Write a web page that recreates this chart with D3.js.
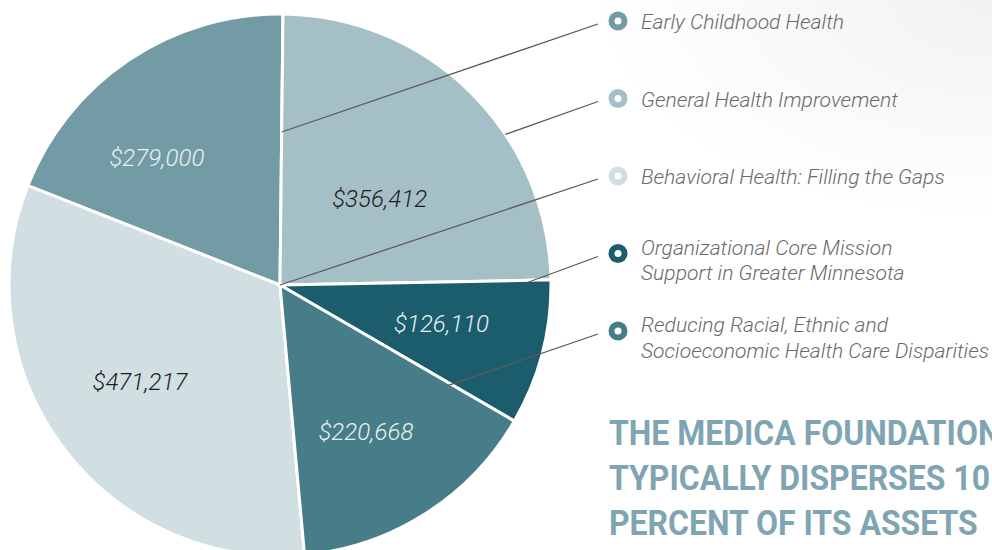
<!DOCTYPE html>
<html>
<head>
<meta charset="utf-8">
<script src="https://cdn.jsdelivr.net/npm/d3@7"></script>
<style>
  html, body { margin: 0; padding: 0; background: #fff; }
  svg { display: block; }
</style>
</head>
<body>
<div id="chart"></div>
<script>
// Data (legend order)
const categories = [
  'Early Childhood Health',
  'General Health Improvement',
  'Behavioral Health: Filling the Gaps',
  'Organizational Core Mission Support in Greater Minnesota',
  'Reducing Racial, Ethnic and Socioeconomic Health Care Disparities'
];
const amounts = [279000, 356412, 471217, 126110, 220668];
const colors = ['#729ba5', '#a5bfc6', '#d1dfe2', '#1b5d6c', '#477d89'];
const legendLines = [
  ['Early Childhood Health'],
  ['General Health Improvement'],
  ['Behavioral Health: Filling the Gaps'],
  ['Organizational Core Mission', 'Support in Greater Minnesota'],
  ['Reducing Racial, Ethnic and', 'Socioeconomic Health Care Disparities']
];
// clockwise order of the slices, starting at 12 o'clock
const sliceOrder = [1, 3, 4, 2, 0];
const titleLines = ['THE MEDICA FOUNDATION', 'TYPICALLY DISPERSES 10', 'PERCENT OF ITS ASSETS'];

// Layout
const width = 992, height = 550;
const cx = 280, cy = 285, radius = 271;
const startOffset = 0.011;
// [fraction of slice span, radius] for value labels and leader anchors
const labelSpots = [[0.353, 177], [0.548, 132], [0.52, 170], [0.46, 166], [0.54, 170]];
const leaderSpots = [[1, 153], [0.63, 271], [0, 0], [0.02, 246], [0.012, 196]];
const labelDark = [false, true, true, false, false];

const svg = d3.select('#chart').append('svg')
  .attr('width', width)
  .attr('height', height);

// faint shading in the corner
const defs = svg.append('defs');
const grad = defs.append('radialGradient').attr('id', 'corner')
  .attr('cx', 1).attr('cy', 0).attr('r', 0.4);
grad.append('stop').attr('offset', '0%').attr('stop-color', '#f2f2f2');
grad.append('stop').attr('offset', '100%').attr('stop-color', '#ffffff');
svg.append('rect').attr('width', width).attr('height', height).attr('fill', 'url(#corner)');

const rows = categories.map((c, i) => ({ i, cat: c, value: amounts[i] }));

const pie = d3.pie()
  .value(d => d.value)
  .sort((a, b) => sliceOrder.indexOf(a.i) - sliceOrder.indexOf(b.i))
  .startAngle(startOffset)
  .endAngle(startOffset + 2 * Math.PI);

const arcs = pie(rows);
const arc = d3.arc().innerRadius(0).outerRadius(radius);

const g = svg.append('g').attr('transform', `translate(${cx},${cy})`);

g.selectAll('path.slice')
  .data(arcs)
  .join('path')
  .attr('class', 'slice')
  .attr('d', arc)
  .attr('fill', d => colors[d.data.i])
  .attr('stroke', '#fff')
  .attr('stroke-width', 3)
  .attr('stroke-linejoin', 'round');

function polar(d, spot) {
  const a = d.startAngle + (d.endAngle - d.startAngle) * spot[0];
  return [spot[1] * Math.sin(a), -spot[1] * Math.cos(a)];
}

// value labels
const fmt = d3.format('$,');
g.selectAll('text.value')
  .data(arcs)
  .join('text')
  .attr('class', 'value')
  .attr('x', d => polar(d, labelSpots[d.data.i])[0])
  .attr('y', d => polar(d, labelSpots[d.data.i])[1])
  .attr('dy', '0.35em')
  .attr('text-anchor', 'middle')
  .style('font-family', 'Roboto, sans-serif')
  .style('font-weight', 300)
  .style('font-style', 'italic')
  .style('font-size', '24px')
  .style('fill', d => labelDark[d.data.i] ? '#1c1c1c' : '#e8f0f2')
  .text(d => fmt(d.data.value));

// legend
const legendX = 618, legendY = d3.scaleLinear().domain([0, 4]).range([21, 331]);
const legend = svg.append('g');

// leader lines
arcs.forEach(d => {
  const p = polar(d, leaderSpots[d.data.i]);
  legend.append('line')
    .attr('x1', cx + p[0]).attr('y1', cy + p[1])
    .attr('x2', legendX - 20).attr('y2', legendY(d.data.i) + 3)
    .attr('stroke', '#5a5a5a')
    .attr('stroke-width', 1.3);
});

const items = legend.selectAll('g.item')
  .data(rows)
  .join('g')
  .attr('class', 'item')
  .attr('transform', d => `translate(${legendX},${legendY(d.i)})`);

items.append('circle').attr('r', 9.5).attr('fill', d => colors[d.i]);
items.append('circle').attr('r', 3.5).attr('fill', '#fff');

const legText = items.append('text')
  .attr('x', 23)
  .attr('y', d => legendLines[d.i].length > 1 ? 1 : 8)
  .style('font-family', 'Roboto, sans-serif')
  .style('font-weight', 300)
  .style('font-style', 'italic')
  .style('font-size', '20px')
  .style('fill', '#6a6a6a');

legText.selectAll('tspan')
  .data(d => legendLines[d.i])
  .join('tspan')
  .attr('x', 23)
  .attr('dy', (d, k) => k === 0 ? 0 : 26)
  .text(d => d);

// squeeze legend text to the narrow face of the original
const firstW = legText.nodes()[0].getComputedTextLength();
const legScale = 203 / firstW;
legText.attr('transform', `translate(23,0) scale(${legScale},1) translate(-23,0)`);

// headline
const title = svg.append('g').attr('transform', 'translate(609,0)');
const titleText = title.selectAll('text')
  .data(titleLines)
  .join('text')
  .attr('y', (d, k) => 445 + k * 45)
  .style('font-family', 'Roboto, sans-serif')
  .style('font-weight', 700)
  .style('font-size', '35px')
  .style('fill', '#7fa5b2')
  .text(d => d);

const lastW = titleText.nodes()[2].getComputedTextLength();
title.attr('transform', `translate(609,0) scale(${369 / lastW},1)`);
</script>
</body>
</html>
